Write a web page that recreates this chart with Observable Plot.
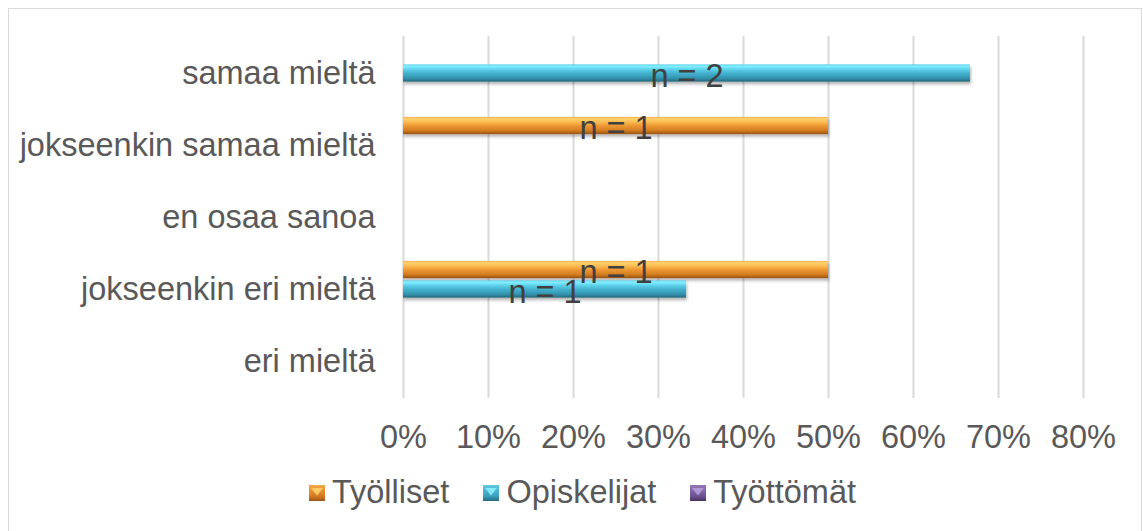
<!DOCTYPE html>
<html>
<head>
<meta charset="utf-8">
<script src="https://cdn.jsdelivr.net/npm/d3@7"></script>
<script src="https://cdn.jsdelivr.net/npm/@observablehq/plot@0.6"></script>
<style>
  html, body { margin: 0; padding: 0; background: #fff; }
  body { width: 1143px; height: 531px; position: relative; overflow: hidden; font-family: "Liberation Sans", Arial, sans-serif; }
  #frame { position: absolute; left: 8px; top: 8px; width: 1134px; height: 540px; border: 1.5px solid #d9d9d9; box-sizing: border-box; }
  #chart { position: absolute; left: 0; top: 0; }
  #legend { position: absolute; left: 0; top: 474px; width: 1143px; display: flex; justify-content: center; align-items: center; font-size: 32.5px; color: #595959; padding-left: 22px; box-sizing: border-box; }
  .item { display: flex; align-items: center; margin: 0 17px; }
  .sw { width: 16px; height: 16px; margin-right: 7px; position: relative; box-sizing: border-box; }
</style>
</head>
<body>
<div id="frame"></div>
<div id="chart"></div>
<div id="legend"></div>
<script>
const categories = ["samaa mieltä", "jokseenkin samaa mieltä", "en osaa sanoa", "jokseenkin eri mieltä", "eri mieltä"];
const seriesNames = ["Työlliset", "Opiskelijat", "Työttömät"];
const tyolliset   = [0, 0.5, 0, 0.5, 0];
const opiskelijat = [0.667, 0, 0, 0.333, 0];
const tyottomat   = [0, 0, 0, 0, 0];
const nTyolliset   = [0, 1, 0, 1, 0];
const nOpiskelijat = [2, 0, 0, 1, 0];
const nTyottomat   = [0, 0, 0, 0, 0];
const xTicks = [0, 0.1, 0.2, 0.3, 0.4, 0.5, 0.6, 0.7, 0.8];

const seriesValues = [tyolliset, opiskelijat, tyottomat];
const seriesCounts = [nTyolliset, nOpiskelijat, nTyottomat];
const gradIds = ["gOrange", "gCyan", "gPurple"];
const offsets = [-19.5, 0, 19.5];

const rows = [];
seriesNames.forEach((s, i) => categories.forEach((c, j) => rows.push({series: s, si: i, category: c, value: seriesValues[i][j], n: seriesCounts[i][j]})));

const bandH = 72.3, barH = 17.5;
const inset = (bandH - barH) / 2;
const FS = 32.5;

const marks = [Plot.gridX(xTicks, {stroke: "#d9d9d9", strokeWidth: 2, strokeOpacity: 1})];
seriesNames.forEach((s, i) => {
  marks.push(Plot.barX(rows.filter(d => d.si === i && d.value > 0), {
    x: "value", y: "category", fill: `url(#${gradIds[i]})`,
    insetTop: inset, insetBottom: inset, dy: offsets[i]
  }));
});
seriesNames.forEach((s, i) => {
  marks.push(Plot.text(rows.filter(d => d.si === i && d.n > 0), {
    x: d => d.value / 2, y: "category", text: d => `n = ${d.n}`,
    dy: offsets[i] + 3, fill: "#404040", fontSize: FS
  }));
});
marks.push(Plot.axisX(xTicks, {tickSize: 0, tickPadding: 26, tickFormat: d => `${Math.round(d * 100)}%`, fontSize: FS, fill: "#595959", label: null}));
marks.push(Plot.axisY({tickSize: 0, tickPadding: 28, fontSize: FS, fill: "#595959", label: null}));

const plot = Plot.plot({
  width: 1143, height: 470,
  marginLeft: 403, marginRight: 60, marginTop: 36, marginBottom: 72,
  style: {fontFamily: "'Liberation Sans', Arial, sans-serif", background: "transparent"},
  x: {domain: [0, 0.8]},
  y: {domain: categories, padding: 0},
  marks
});

const svg = d3.select(plot);
const defs = svg.insert("defs", ":first-child");
const grads = {
  gOrange: [["0%", "#f4a848"], ["10%", "#ffd26c"], ["28%", "#fbbd55"], ["50%", "#ee9a35"], ["80%", "#d37b22"], ["100%", "#94520f"]],
  gCyan:   [["0%", "#55cde8"], ["10%", "#86efff"], ["28%", "#5fd4ec"], ["50%", "#45b3d0"], ["80%", "#3493ae"], ["100%", "#22667a"]],
  gPurple: [["0%", "#9c82c0"], ["10%", "#b9a0dc"], ["28%", "#8f72b5"], ["50%", "#7a5ea0"], ["80%", "#654b88"], ["100%", "#45325f"]]
};
Object.entries(grads).forEach(([id, stops]) => {
  const g = defs.append("linearGradient").attr("id", id).attr("x1", 0).attr("y1", 0).attr("x2", 0).attr("y2", 1);
  stops.forEach(([o, c]) => g.append("stop").attr("offset", o).attr("stop-color", c));
});
const f = defs.append("filter").attr("id", "shadow").attr("x", "-5%").attr("y", "-30%").attr("width", "110%").attr("height", "190%");
f.append("feDropShadow").attr("dx", 1).attr("dy", 2.5).attr("stdDeviation", 1.6).attr("flood-color", "#000").attr("flood-opacity", 0.3);
svg.selectAll('g[aria-label="bar"]').attr("filter", "url(#shadow)");

document.getElementById("chart").appendChild(plot);

const legend = document.getElementById("legend");
const swatchBg = [
  "linear-gradient(to bottom, #f5a949, #d47a22 70%, #9a5716)",
  "linear-gradient(to bottom, #5ccbe4, #3a9fbd 70%, #246a80)",
  "linear-gradient(to bottom, #9478b8, #6e5394 70%, #47325f)"
];
const triColor = ["#ffcf6a", "#8beeff", "#b69ddb"];
seriesNames.forEach((s, i) => {
  const it = document.createElement("div");
  it.className = "item";
  const sw = document.createElement("div");
  sw.className = "sw";
  sw.style.background = swatchBg[i];
  sw.innerHTML = `<svg width="16" height="16" style="position:absolute;left:0;top:0"><polygon points="2,3 14,3 8,10.5" fill="${triColor[i]}" opacity="0.9"/></svg>`;
  const tx = document.createElement("span");
  tx.textContent = s;
  it.appendChild(sw); it.appendChild(tx);
  legend.appendChild(it);
});
</script>
</body>
</html>
